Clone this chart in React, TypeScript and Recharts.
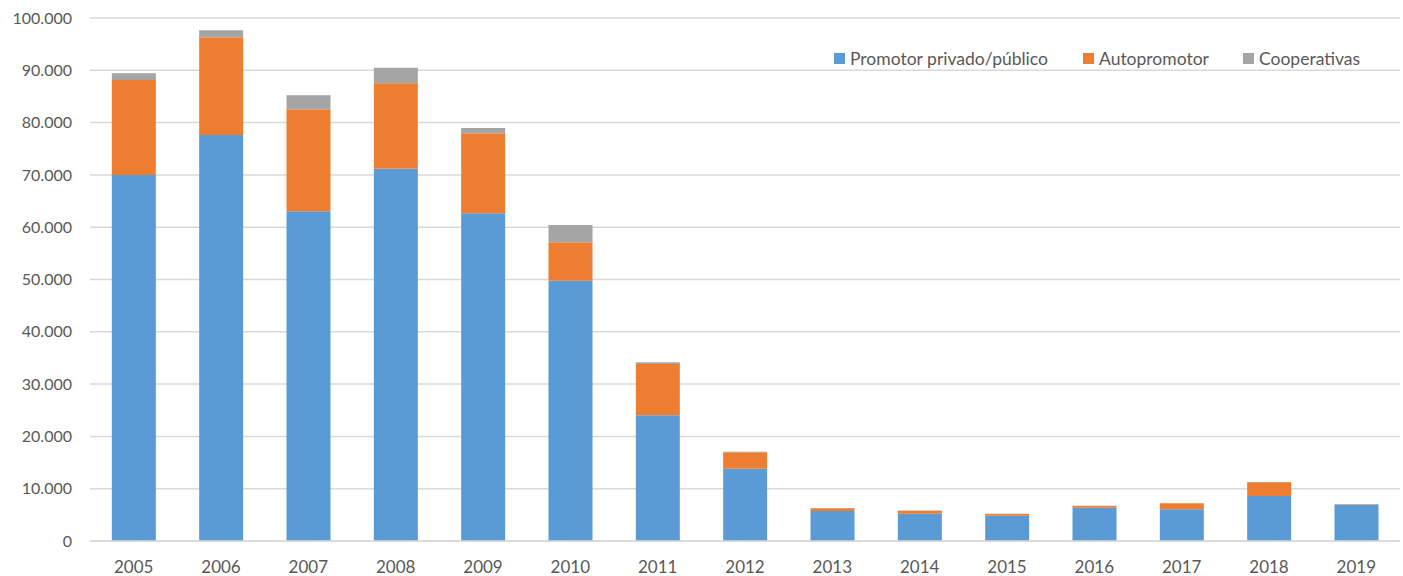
import React from 'react';
import { BarChart, Bar, XAxis, YAxis, CartesianGrid, Legend } from 'recharts';

const years = ['2005','2006','2007','2008','2009','2010','2011','2012','2013','2014','2015','2016','2017','2018','2019'];
const promotor = [70000, 77630, 63040, 71190, 62650, 49770, 24030, 13830, 5740, 5220, 4840, 6370, 6060, 8600, 6940];
const autopromotor = [18150, 18680, 19500, 16320, 15300, 7340, 9810, 3120, 510, 580, 320, 320, 1140, 2620, 100];
const cooperativas = [1280, 1340, 2680, 2990, 1020, 3310, 320, 100, 60, 50, 40, 40, 40, 40, 40];
const yTicks = [0, 10000, 20000, 30000, 40000, 50000, 60000, 70000, 80000, 90000, 100000];

const seriesNames = ['Promotor privado/público', 'Autopromotor', 'Cooperativas'];
const colors = ['#5B9BD5', '#ED7D31', '#A5A5A5'];

const data = years.map((y, i) => ({
  year: y,
  promotor: promotor[i],
  autopromotor: autopromotor[i],
  cooperativas: cooperativas[i],
}));

const fmt = (v: number) => v.toString().replace(/\B(?=(\d{3})+(?!\d))/g, '.');

const FONT = 'Lato, "Open Sans", sans-serif';
const TXT = '#595959';

const LegendContent = () => {
  const xs = [0, 249, 409];
  return (
    <div style={{ position: 'relative', height: 22, width: 560 }}>
      {seriesNames.map((n, i) => (
        <div key={n} style={{ position: 'absolute', left: xs[i], top: 0, display: 'flex', alignItems: 'center', fontFamily: FONT, fontSize: 17.5, color: TXT, whiteSpace: 'nowrap' }}>
          <span style={{ display: 'inline-block', width: 11, height: 11, background: colors[i], marginRight: 5 }} />
          {n}
        </div>
      ))}
    </div>
  );
};

export default function App() {
  return (
    <div style={{ position: 'absolute', left: 0, top: 0, background: '#fff' }}>
      <BarChart
        width={1403}
        height={576}
        data={data}
        margin={{ top: 18, right: 3, left: 0, bottom: 0 }}
        barCategoryGap="25%"
      >
        <CartesianGrid vertical={false} stroke="#d9d9d9" strokeWidth={1.5} />
        <XAxis
          dataKey="year"
          height={35}
          tickLine={false}
          axisLine={{ stroke: '#d9d9d9', strokeWidth: 1.5 }}
          tickMargin={14}
          tick={{ fill: TXT, fontSize: 17, fontFamily: FONT }}
          interval={0}
        />
        <YAxis
          width={90}
          domain={[0, 100000]}
          ticks={yTicks}
          tickFormatter={fmt}
          axisLine={false}
          tickLine={false}
          tickMargin={12}
          tick={{ fill: TXT, fontSize: 16, fontFamily: FONT }}
          interval={0}
        />
        <Legend
          verticalAlign="middle"
          align="center"
          layout="horizontal"
          content={<LegendContent />}
          wrapperStyle={{ position: 'absolute', top: 48, left: 834, width: 560 }}
        />
        <Bar dataKey="promotor" name={seriesNames[0]} stackId="a" fill={colors[0]} isAnimationActive={false} />
        <Bar dataKey="autopromotor" name={seriesNames[1]} stackId="a" fill={colors[1]} isAnimationActive={false} />
        <Bar dataKey="cooperativas" name={seriesNames[2]} stackId="a" fill={colors[2]} isAnimationActive={false} />
      </BarChart>
    </div>
  );
}
